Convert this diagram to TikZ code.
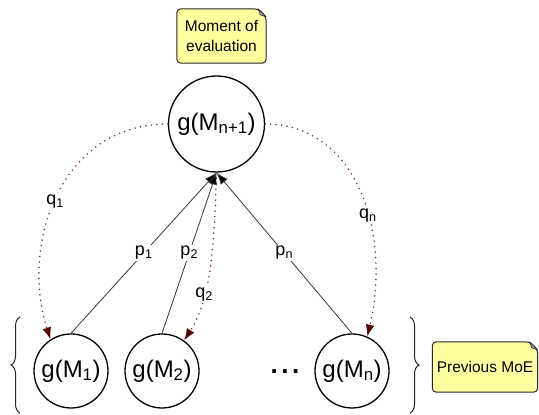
\documentclass[tikz,border=0pt]{standalone}
\usepackage{fontspec}
\setmainfont{Liberation Sans}
\usetikzlibrary{arrows.meta,decorations.pathreplacing,backgrounds,calc}

\definecolor{noteyellow}{RGB}{255,255,160}
\definecolor{noteedge}{RGB}{40,40,40}
\definecolor{qred}{RGB}{115,45,45}
\definecolor{qtip}{RGB}{85,10,10}
\definecolor{pline}{RGB}{55,55,55}

% outline of a sticky note with a folded top-right corner, behind node #1
\newcommand{\notepaper}[1]{%
  \begin{scope}[on background layer]
    \draw[notepath] (#1.south west) -- (#1.north west)
      -- ($(#1.north east)+(-8,0)$) -- ($(#1.north east)+(0,-8)$)
      -- (#1.south east) -- cycle;
    \filldraw[fill=gray!75,draw=noteedge,line width=0.6pt,line join=round]
      ($(#1.north east)+(-8,0)$) -- ($(#1.north east)+(0,-8)$)
      -- ($(#1.north east)+(-6,-6)$) -- cycle;
  \end{scope}}

\begin{document}
\begin{tikzpicture}[x=1pt,y=1pt,
  state/.style={circle,draw=black,line width=1.3pt,inner sep=0pt,
    minimum size=#1,font=\fontsize{24}{28}\selectfont},
  note/.style={inner sep=0pt,align=center,font=\fontsize{15.5}{20}\selectfont},
  notepath/.style={fill=noteyellow,draw=noteedge,line width=1pt,rounded corners=4pt},
  lbl/.style={fill=white,inner sep=1.5pt,font=\fontsize{18}{20}\selectfont},
  pedge/.style={draw=pline,line width=0.8pt,
    -{Latex[length=12pt,width=9pt,fill=black]}},
  qedge/.style={draw=qred,line width=1.7pt,line cap=round,
    dash pattern=on 0pt off 5.5pt,
    -{Latex[length=12pt,width=9pt,color=qtip,fill=qtip,line cap=butt]}},
  curly/.style={draw=black!85,line width=1pt,decorate,
    decoration={brace,amplitude=9pt}}]
\useasboundingbox (0,0) rectangle (539,415);

% states
\node[state=96pt] (top) at (216.5,291) {g(M\textsubscript{n+1})};
\node[state=74pt] (m1) at (71,44) {g(M\textsubscript{1})};
\node[state=74pt] (m2) at (162,44) {g(M\textsubscript{2})};
\node[state=74pt] (mn) at (352,44) {g(M\textsubscript{n})};
\node[inner sep=0pt,font=\fontsize{26}{28}\selectfont\bfseries] (dots) at (285,43)
  {.\kern3.5pt.\kern3.5pt.};

% notes
\node[note,minimum width=89pt,minimum height=54pt] (eval) at (221.5,379)
  {Moment of\\evaluation};
\notepaper{eval}
\node[note,minimum width=105pt,minimum height=50pt] (prev) at (485,48)
  {Previous MoE};
\notepaper{prev}

% grouping braces
\coordinate (lb0) at (20,2);
\coordinate (lb1) at (20,98);
\coordinate (rb0) at (410,98);
\coordinate (rb1) at (410,2);
\draw[curly] (lb0) -- (lb1);
\draw[curly] (rb0) -- (rb1);

% q edges (dotted)
\draw[qedge] (top.west) .. controls (60,291) and (20,170) ..
  node[lbl,pos=0.52] {q\textsubscript{1}} (m1.123);
\draw[qedge] (top.south) .. controls (214,160) and (210,115) ..
  node[lbl,pos=0.65] {q\textsubscript{2}} (m2.54);
\draw[qedge] (top.east) .. controls (355,291) and (392,185) ..
  node[lbl,pos=0.6] {q\textsubscript{n}} (mn.66);

% p edges
\draw[pedge] (m1.north) -- node[lbl] {p\textsubscript{1}} (top.south);
\draw[pedge] (m2.north) -- node[lbl] {p\textsubscript{2}} (top.south);
\draw[pedge] (mn.north) -- node[lbl] {p\textsubscript{n}} (top.south);
\end{tikzpicture}
\end{document}
